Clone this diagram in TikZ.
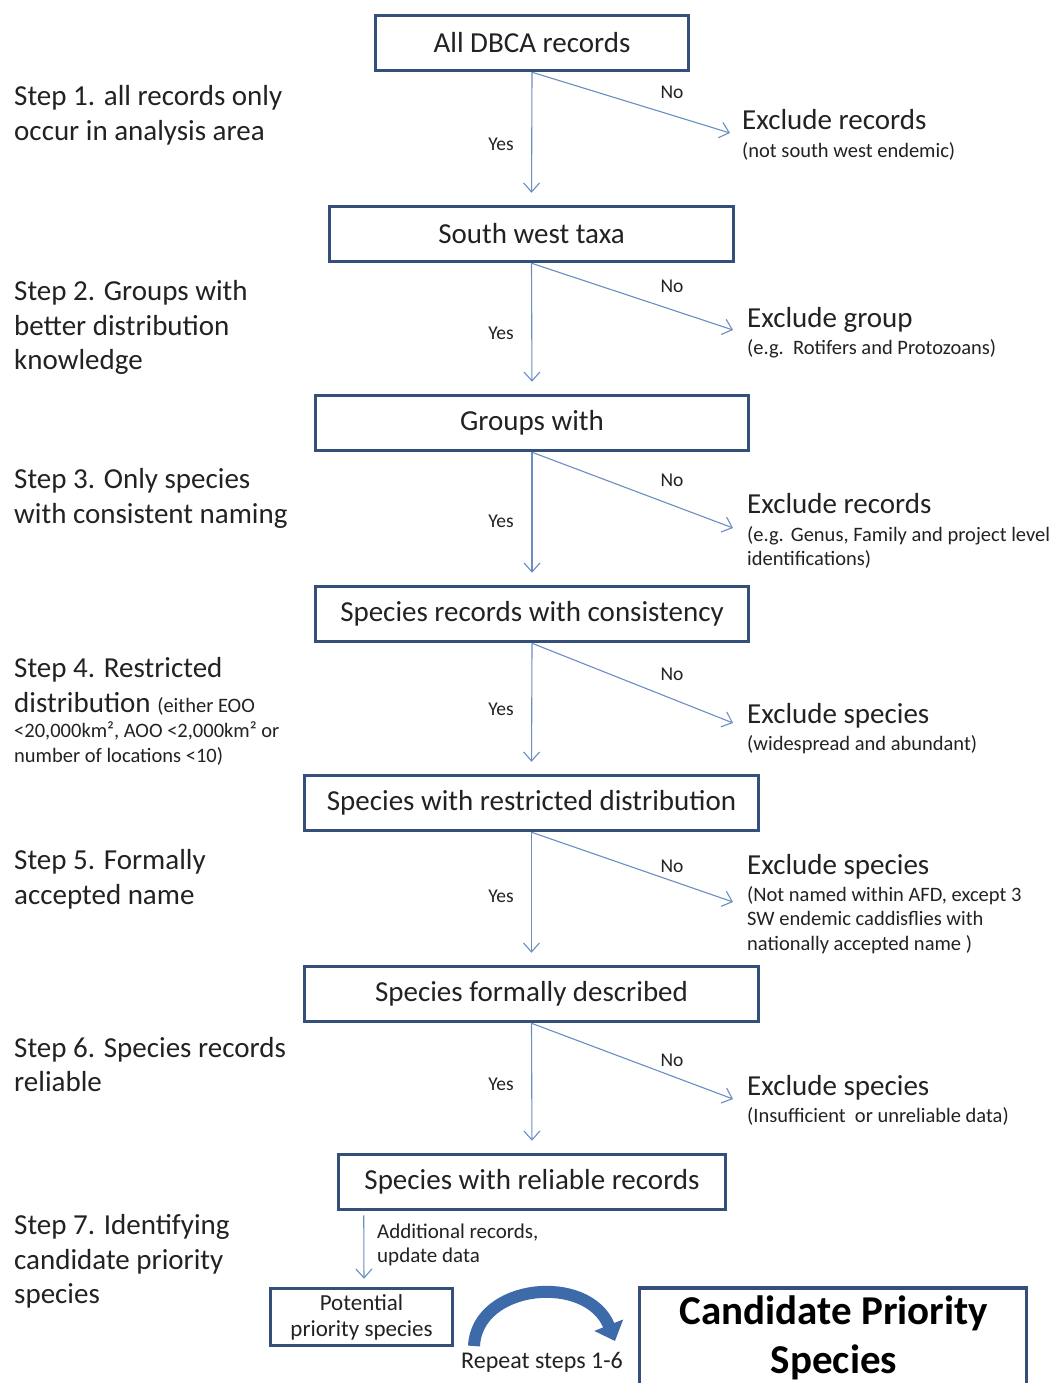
\documentclass[tikz,border=0pt]{standalone}
\usepackage{fontspec}
\setmainfont{Carlito}
\usetikzlibrary{arrows.meta}
\definecolor{boxblue}{HTML}{34507A}
\definecolor{arrblue}{HTML}{6A8EC4}
\definecolor{curveblue}{HTML}{3D6AA8}
\definecolor{txt}{HTML}{222222}
\begin{document}
\begin{tikzpicture}[x=1pt,y=-1pt,
 box/.style={draw=boxblue,line width=3.5pt,inner sep=0pt,text=txt,minimum height=55pt,font=\fontsize{29}{34}\selectfont},
 big/.style={anchor=base west,inner sep=0pt,text=txt,font=\fontsize{29}{34}\selectfont},
 small/.style={anchor=base west,inner sep=0pt,text=txt,font=\fontsize{20.5}{24}\selectfont},
 yn/.style={inner sep=0pt,text=txt,font=\fontsize{19.5}{23}\selectfont},
 arr/.style={draw=arrblue,line width=1.1pt,-{Straight Barb[length=9pt,width=16pt]}},
]
\useasboundingbox (0,0) rectangle (1051,1383);
\fill[white] (0,0) rectangle (1051,1383);

% main boxes
\node[box,minimum width=313pt] (b1) at (532,43) {All DBCA records};
\node[box,minimum width=404pt] (b2) at (531.5,234) {South west taxa};
\node[box,minimum width=433pt] (b3) at (532,423) {Groups with};
\node[box,minimum width=433pt] (b4) at (532,614) {Species records with consistency};
\node[box,minimum width=454pt] (b5) at (531.5,803) {Species with restricted distribution};
\node[box,minimum width=454pt] (b6) at (531.5,994) {Species formally described};
\node[box,minimum width=387pt] (b7) at (532,1182) {Species with reliable records};
\node[box,minimum width=182pt,minimum height=57pt,align=center,font=\fontsize{23}{26}\selectfont] (b8) at (361.5,1317) {Potential\\priority species};
\node[draw=boxblue,line width=3.5pt,minimum width=387pt,minimum height=120pt,inner sep=0pt] (candbox) at (833,1348) {};
\node[inner sep=0pt,align=center,text=black,font=\fontsize{41}{49}\selectfont\bfseries] (cand) at (834,1338) {Candidate Priority\\Species};

% end points of No arrows
\coordinate (e1) at (730,133);
\coordinate (e2) at (733,330);
\coordinate (e3) at (733,528);
\coordinate (e4) at (733,723);
\coordinate (e5) at (733,902);
\coordinate (e6) at (733,1099);

% connectors
\draw[arr,shorten >=12pt] (b1.south) -- (b2.north);
\draw[arr,shorten >=12pt] (b2.south) -- (b3.north);
\draw[arr,shorten >=12pt] (b3.south) -- (b4.north);
\draw[arr,shorten >=12pt] (b4.south) -- (b5.north);
\draw[arr,shorten >=12pt] (b5.south) -- (b6.north);
\draw[arr,shorten >=12pt] (b6.south) -- (b7.north);
\draw[arr] (b1.south) -- (e1);
\draw[arr] (b2.south) -- (e2);
\draw[arr] (b3.south) -- (e3);
\draw[arr] (b4.south) -- (e4);
\draw[arr] (b5.south) -- (e5);
\draw[arr] (b6.south) -- (e6);
\draw[arr,shorten >=8pt] ([xshift=27pt,yshift=-4pt]b7.south west) -- ([xshift=2.5pt]b8.north);

% curved repeat arrow
\coordinate (c0) at (474,1346);
\coordinate (c1) at (477,1283);
\coordinate (c2) at (588,1273);
\coordinate (c3) at (615,1341);
\draw[line width=12pt,curveblue,-{Triangle[length=17pt,width=30pt]}] (c0) .. controls (c1) and (c2) .. (c3);
\node[yn,font=\fontsize{24}{28}\selectfont] (rep) at (542,1362) {Repeat steps 1-6};

% Yes / No labels
\node[yn] (y1) at (501,144) {Yes};
\node[yn] (n1) at (672,92) {No};
\node[yn] (y2) at (501,333) {Yes};
\node[yn] (n2) at (672,286) {No};
\node[yn] (y3) at (501,521) {Yes};
\node[yn] (n3) at (672,480) {No};
\node[yn] (y4) at (501,709) {Yes};
\node[yn] (n4) at (672,674) {No};
\node[yn] (y5) at (501,896) {Yes};
\node[yn] (n5) at (672,866) {No};
\node[yn] (y6) at (501,1084) {Yes};
\node[yn] (n6) at (672,1060) {No};

% additional records text
\node[small,font=\fontsize{21}{24}\selectfont] (ad1) at (377,1238) {Additional records,};
\node[small,font=\fontsize{21}{24}\selectfont] (ad2) at (377,1262) {update data};

% exclude texts
\node[big] (x1) at (742,130) {Exclude records};
\node[small] (x1a) at (742,158) {(not south west endemic)};
\node[big] (x2) at (747,327) {Exclude group};
\node[small] (x2a) at (747,354) {(e.g.\ \ Rotifers and Protozoans)};
\node[big] (x3) at (747,513) {Exclude records};
\node[small] (x3a) at (747,541) {(e.g.\hspace{7pt}Genus, Family and project level};
\node[small] (x3b) at (747,565) {identifications)};
\node[big] (x4) at (747,723) {Exclude species};
\node[small] (x4a) at (747,750) {(widespread and abundant)};
\node[big] (x5) at (747,874) {Exclude species};
\node[small] (x5a) at (747,901) {(Not named within AFD, except 3};
\node[small] (x5b) at (747,925) {SW endemic caddisflies with};
\node[small] (x5c) at (747,950) {nationally accepted name )};
\node[big] (x6) at (747,1095) {Exclude species};
\node[small] (x6a) at (747,1122) {(Insufficient\ \ or unreliable data)};

% step texts
\node[big] (s1a) at (14,106) {Step 1. all records only};
\node[big] (s1b) at (14,141) {occur in analysis area};
\node[big] (s2a) at (14,300) {Step 2. Groups with};
\node[big] (s2b) at (14,335) {better distribution};
\node[big] (s2c) at (14,369) {knowledge};
\node[big] (s3a) at (14,488) {Step 3. Only species};
\node[big] (s3b) at (14,523) {with consistent naming};
\node[big] (s4a) at (14,677) {Step 4. Restricted};
\node[big] (s4b) at (14,712) {distribution {\fontsize{20.5}{24}\selectfont(either EOO}};
\node[small] (s4c) at (14,737) {<20,000km², AOO <2,000km² or};
\node[small] (s4d) at (14,762) {number of locations <10)};
\node[big] (s5a) at (14,869) {Step 5. Formally};
\node[big] (s5b) at (14,904) {accepted name};
\node[big] (s6a) at (14,1057) {Step 6. Species records};
\node[big] (s6b) at (14,1091) {reliable};
\node[big] (s7a) at (14,1234) {Step 7. Identifying};
\node[big] (s7b) at (14,1269) {candidate priority};
\node[big] (s7c) at (14,1303) {species};
\end{tikzpicture}
\end{document}
